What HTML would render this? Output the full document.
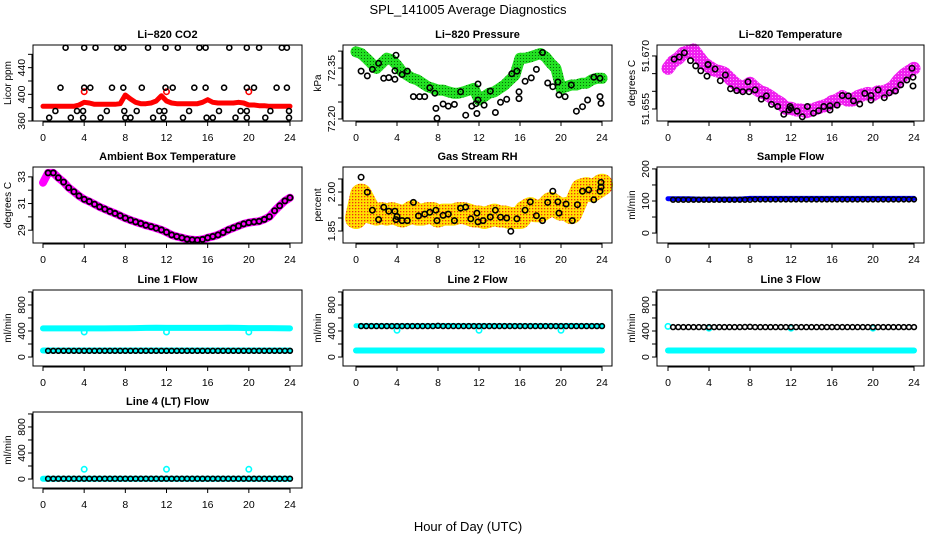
<!DOCTYPE html>
<html><head><meta charset="utf-8"><title>SPL_141005 Average Diagnostics</title>
<style>
html,body{margin:0;padding:0;background:#fff;}
svg{display:block;font-family:"Liberation Sans",Arial,sans-serif;}
</style></head>
<body>
<svg id="c" width="936" height="540" viewBox="0 0 936 540">
<defs>
<pattern id="patGreen" width="3" height="3" patternUnits="userSpaceOnUse"><rect width="3" height="3" fill="#22e022"/><rect x="1" y="1" width="1" height="1" fill="#0a6a0a"/></pattern>
<pattern id="patMag" width="3" height="3" patternUnits="userSpaceOnUse"><rect width="3" height="3" fill="#f020f0"/><rect x="1" y="1" width="1" height="1" fill="#f8a0f8"/></pattern>
<pattern id="patRH" width="3" height="3" patternUnits="userSpaceOnUse"><rect width="3" height="3" fill="#ffe000"/><rect x="1" y="1" width="1.3" height="1.3" fill="#f03010"/></pattern>
</defs>
<text x="468" y="14" text-anchor="middle" font-size="13">SPL_141005  Average Diagnostics</text>
<text x="468" y="531" text-anchor="middle" font-size="13">Hour of Day (UTC)</text>
</svg>
<script>
// ---- data ----
const halfHours = []; for (let i = 0; i <= 48; i++) halfHours.push(i * 0.5);
const hourly = []; for (let i = 0; i <= 24; i++) hourly.push(i);
const denseHours = []; for (let i = 1; i <= 48; i++) denseHours.push(i * 0.5);
const xTickVals = [0, 4, 8, 12, 16, 20, 24];

const co2Red = [382,382,382,382,382,382,382,384,388,387,385,385,385,385,385,386,399,393,388,386,386,387,390,398,390,387,386,386,386,386,386,388,392,388,387,387,387,387,388,387,384,384,383,383,382,382,382,382,382];
const co2RedOutHours = [4, 12, 20];
const co2RedOutVals = [404, 404, 404];
const co2BlackHours = [2.2,4.0,5.1,7.2,7.8,10.2,11.9,13.1,15.2,15.8,18.1,19.8,21.0,23.2,23.7,
 1.7,4.0,4.6,6.7,7.8,9.6,11.9,12.6,14.7,15.8,17.6,19.8,20.5,22.7,23.7,
 1.2,3.3,3.9,6.2,7.9,9.1,11.3,11.8,14.2,17.1,19.2,19.8,22.1,23.9,
 0.6,2.7,3.9,5.6,8.0,8.5,10.7,11.7,13.6,15.9,16.5,18.7,19.8,21.6,23.9];
const co2BlackVals = [470,470,470,470,470,470,470,470,470,470,470,470,470,470,470,
 410,410,410,410,410,410,410,410,410,410,410,410,410,410,410,
 375,375,375,375,375,375,375,375,375,375,375,375,375,375,
 365,365,365,365,365,365,365,365,365,365,365,365,365,365,365];

const presGreen = [72.398,72.393,72.379,72.364,72.349,72.364,72.379,72.374,72.359,72.339,72.329,72.320,72.315,72.305,72.295,72.290,72.285,72.285,72.280,72.276,72.276,72.280,72.285,72.290,72.256,72.266,72.276,72.280,72.290,72.300,72.315,72.329,72.379,72.379,72.383,72.388,72.393,72.383,72.364,72.349,72.290,72.295,72.300,72.300,72.305,72.305,72.315,72.320,72.320];
const presBlackHours = [0.5,1.1,1.6,2.2,2.7,3.2,3.8,3.9,3.8,4.5,5.0,5.6,6.2,6.7,7.2,7.7,7.8,7.9,8.5,9.0,9.6,10.2,10.7,11.3,11.7,11.8,11.9,11.9,12.5,13.1,13.6,14.1,14.7,15.2,15.7,15.9,15.9,16.5,17.1,17.6,18.2,18.7,19.2,19.7,19.8,20.4,21.0,21.5,22.1,22.6,23.2,23.8,23.8,23.9];
const presBlackVals = [72.341,72.327,72.346,72.364,72.320,72.322,72.317,72.388,72.342,72.331,72.341,72.266,72.266,72.266,72.292,72.276,72.231,72.202,72.244,72.238,72.243,72.280,72.211,72.238,72.245,72.216,72.303,72.256,72.241,72.282,72.219,72.249,72.258,72.333,72.341,72.280,72.260,72.311,72.321,72.346,72.396,72.306,72.295,72.309,72.271,72.266,72.300,72.223,72.236,72.256,72.323,72.320,72.266,72.246];

const tempMag = [51.6665,51.6684,51.6693,51.6708,51.6712,51.6717,51.6698,51.6679,51.6670,51.6660,51.6656,51.6651,51.6637,51.6623,51.6613,51.6613,51.6623,51.6609,51.6599,51.6594,51.6585,51.6575,51.6566,51.6552,51.6552,51.6547,51.6547,51.6542,51.6547,51.6552,51.6557,51.6561,51.6571,51.6575,51.6585,51.6575,51.6575,51.6585,51.6590,51.6594,51.6590,51.6599,51.6599,51.6604,51.6613,51.6632,51.6646,51.6656,51.6665];
const tempBlackHours = [0.6,1.1,1.6,2.2,2.7,3.2,3.8,3.9,3.9,4.6,5.1,5.6,6.1,6.7,7.3,7.8,7.9,8.5,9.1,9.6,10.1,10.7,11.3,11.8,11.9,12.0,12.6,13.1,13.6,14.2,14.7,15.2,15.8,15.8,16.5,17.0,17.6,18.1,18.7,19.2,19.8,19.8,20.5,21.1,21.6,22.2,22.7,23.3,23.8,23.9,23.9];
const tempBlackVals = [51.6691,51.6697,51.6709,51.6687,51.6672,51.6658,51.6643,51.6675,51.6676,51.6663,51.6630,51.6646,51.6607,51.6602,51.6599,51.6627,51.6599,51.6604,51.6578,51.6587,51.6563,51.6557,51.6535,51.6547,51.6557,51.6552,51.6544,51.6528,51.6557,51.6538,51.6545,51.6557,51.6547,51.6559,51.6561,51.6588,51.6587,51.6573,51.6564,51.6594,51.6575,51.6588,51.6604,51.6582,51.6596,51.6601,51.6618,51.6632,51.6665,51.6640,51.6615];

const ambient = [32.56,33.30,33.30,32.93,32.61,32.19,31.89,31.57,31.32,31.15,30.95,30.75,30.58,30.41,30.26,30.09,29.91,29.76,29.62,29.50,29.37,29.27,29.15,29.02,28.85,28.65,28.53,28.43,28.33,28.28,28.26,28.31,28.43,28.53,28.65,28.83,29.02,29.17,29.32,29.47,29.57,29.62,29.67,29.81,30.01,30.46,30.83,31.20,31.44];

const rhBand = [1.900,1.990,1.951,1.919,1.913,1.919,1.913,1.919,1.913,1.906,1.913,1.926,1.913,1.913,1.919,1.919,1.906,1.913,1.913,1.913,1.919,1.919,1.913,1.906,1.906,1.900,1.906,1.913,1.906,1.906,1.900,1.900,1.900,1.926,1.938,1.926,1.926,1.938,1.958,1.945,1.932,1.938,1.919,1.964,2.009,2.015,2.003,2.015,2.028];
const rhBlackHours = [0.5,1.1,1.6,2.2,2.7,3.2,3.8,3.9,4.0,4.5,5.0,5.6,6.1,6.7,7.2,7.8,7.9,8.5,9.0,9.6,10.2,10.7,11.2,11.8,11.9,12.4,13.1,13.6,14.1,14.7,15.1,15.7,16.5,17.0,17.6,18.2,18.7,19.2,19.7,19.8,20.5,21.1,21.6,22.1,22.7,23.2,23.8,23.9,23.9];
const rhBlackVals = [2.057,1.999,1.930,1.894,1.941,1.926,1.926,1.894,1.906,1.890,1.890,1.960,1.908,1.915,1.922,1.930,1.890,1.910,1.915,1.890,1.938,1.942,1.897,1.919,1.885,1.890,1.904,1.930,1.903,1.900,1.849,1.897,1.930,1.962,1.909,1.890,1.960,2.003,1.962,1.919,1.954,1.890,1.951,2.003,2.008,1.970,2.003,2.037,2.019];

const sampleBlue = [107,107,107,106,106,106,106,106,108,108,108,108,108,108,108,108,108,108,108,108,108,108,108,108,108];
const sampleBlack = [104,104,104,104,104,104,104,104,104,104,104,104,104,104,104,104,105,105,105,105,105,105,105,105,105,105,105,105,105,105,105,105,105,105,105,105,105,105,105,105,105,105,105,105,105,105,105,105];

const l1CyanTop = [440,440,440,440,440,440,440,442,442,445,448,450,448,448,447,447,448,448,450,448,445,445,445,442,440];
const l1CyanBot = [100,100,100,100,100,100,100,100,100,100,100,100,100,100,100,100,100,100,100,100,100,100,100,100,100];
const l1Black = [95,95,95,95,95,95,95,95,95,95,95,95,95,95,95,95,95,95,95,95,95,95,95,95,95,95,95,95,95,95,95,95,95,95,95,95,95,95,95,95,95,95,95,95,95,95,95,95];
const l1DipVals = [385,385,385];
const dipHours = [4, 12, 20];

const l2CyanTop = [480,480,480,480,480,480,480,480,480,485,482,480,480,480,480,480,480,480,480,480,480,485,480,480,480];
const l2CyanBot = [100,100,100,100,100,100,100,100,100,100,100,100,100,100,100,100,100,100,100,100,100,100,100,100,100];
const l2Black = [475,475,475,475,475,475,475,475,475,475,475,475,475,475,475,480,475,475,475,475,475,475,475,475,475,475,475,475,475,475,475,475,475,475,475,475,475,475,475,475,475,475,475,475,475,475,475,475];
const l2DipVals = [410,410,410];

const l3CyanStart = [470];
const l3CyanBot = [100,100,100,100,100,100,100,100,100,100,100,100,100,100,100,100,100,100,100,100,100,100,100,100,100];
const l3Black = [460,460,460,460,460,460,460,460,460,460,460,460,460,460,462,465,460,460,460,460,460,460,460,460,460,460,460,460,460,460,460,460,460,460,460,460,460,460,460,460,460,460,460,460,460,460,460,460];
const l3DipVals = [445,445,445];

const l4Cyan = [5,5,5,5,5,5,5,5,5,5,5,5,5,5,5,5,5,5,5,5,5,5,5,5,5];
const l4Black = [5,5,5,5,5,5,5,5,5,5,5,5,5,5,5,5,5,5,5,5,5,5,5,5,5,5,5,5,5,5,5,5,5,5,5,5,5,5,5,5,5,5,5,5,5,5,5,5];
const l4SpikeVals = [150,150,150];

// ---- drawing ----
const NS = 'http://www.w3.org/2000/svg';
const svg = document.getElementById('c');
function mk(tag, attrs, parent) {
  const e = document.createElementNS(NS, tag);
  for (const k in attrs) e.setAttribute(k, attrs[k]);
  (parent || svg).appendChild(e);
  return e;
}
const cols = [{l:33,r:302,x0:43,x24:290},{l:343,r:612,x0:356,x24:602},{l:657,r:924,x0:668,x24:914}];
const rowTops = [45,167,290,412];
const PH = 76;

function makePanel(id, col, row, title, ylab, ymin, ymax, yticks, ylabels) {
  const c = cols[col], top = rowTops[row], bot = top + PH;
  const g = mk('g', {});
  
  
  const xs = h => c.x0 + (c.x24 - c.x0) * h / 24;
  const ys = v => bot - (v - ymin) / (ymax - ymin) * PH;
  const t = mk('text', {x:(c.l + c.r) / 2, y: top - 7, 'text-anchor':'middle', 'font-size':11, 'font-weight':'bold'}, g);
  t.textContent = title;
  
  
  const yl = mk('text', {x:0, y:0, transform:`translate(${c.l - 22},${(top + bot) / 2}) rotate(-90)`, 'text-anchor':'middle', 'font-size':10}, g);
  yl.textContent = ylab;
  
  
  const plot = mk('g', {}, g);
  
  
  const xa = mk('g', {}, g);
  
  
  mk('line', {x1:xs(0), x2:xs(24), y1:bot + 1, y2:bot + 1, stroke:'#000', 'stroke-width':1}, xa);
  xTickVals.forEach(v => {
    mk('line', {x1:xs(v), x2:xs(v), y1:bot, y2:bot + 5, stroke:'#000', 'stroke-width':1}, xa);
    const tl = mk('text', {x:xs(v), y:bot + 20, 'text-anchor':'middle', 'font-size':10.5}, xa);
    tl.textContent = String(v);
    
    
  });
  const ya = mk('g', {}, g);
  
  
  mk('line', {x1:c.l - 1, x2:c.l - 1, y1:ys(yticks[0]), y2:ys(yticks[yticks.length - 1]), stroke:'#000', 'stroke-width':1}, ya);
  yticks.forEach((v, i) => {
    const y = ys(v);
    mk('line', {x1:c.l - 5, x2:c.l, y1:y, y2:y, stroke:'#000', 'stroke-width':1}, ya);
    if (ylabels[i]) {
      const tl = mk('text', {x:0, y:0, transform:`translate(${c.l - 8},${y}) rotate(-90)`, 'text-anchor':'middle', 'font-size':10.5}, ya);
      tl.textContent = ylabels[i];
      
      
    }
  });
  const box = mk('rect', {x:c.l, y:top, width:c.r - c.l, height:PH, fill:'none', stroke:'#000', 'stroke-width':1}, g);
  
  
  return {xs, ys, plot, id};
}

function band(p, hours, vals, stroke, width, name) {
  const pts = hours.map((h, i) => p.xs(h).toFixed(1) + ',' + p.ys(vals[i]).toFixed(1)).join(' ');
  const pl = mk('polyline', {points:pts, fill:'none', stroke:stroke, 'stroke-width':width, 'stroke-linejoin':'round', 'stroke-linecap':'round'}, p.plot);
  
  
}
function pts(p, hours, vals, color, name, r, sw) {
  const g = mk('g', {}, p.plot);
  
  
  hours.forEach((h, i) => {
    const ci = mk('circle', {cx:p.xs(h).toFixed(1), cy:p.ys(vals[i]).toFixed(1), r:r || 2.7, fill:'none', stroke:color, 'stroke-width':sw || 1.6}, g);
    
    
  });
}

let p = makePanel('co2', 0, 0, 'Li\u2212820 CO2', 'Licor ppm', 360, 474, [360,380,400,420,440,460], ['360','','400','','440','']);
band(p, halfHours, co2Red, '#ff0000', 5, 'red-series');
pts(p, co2RedOutHours, co2RedOutVals, '#ff0000', 'red-outliers');
pts(p, co2BlackHours, co2BlackVals, '#000', 'black-series', 2.5, 1.6);

p = makePanel('pressure', 1, 0, 'Li\u2212820 Pressure', 'kPa', 72.194, 72.418, [72.20,72.25,72.30,72.35,72.40], ['72.20','','','72.35','']);
band(p, halfHours, presGreen, 'url(#patGreen)', 11, 'green-series');
pts(p, presBlackHours, presBlackVals, '#000', 'black-series');

p = makePanel('li820-temp', 2, 0, 'Li\u2212820 Temperature', 'degrees C', 51.6516, 51.6731, [51.655,51.660,51.665,51.670], ['51.655','','','51.670']);
band(p, halfHours, tempMag, 'url(#patMag)', 13, 'magenta-series');
pts(p, tempBlackHours, tempBlackVals, '#000', 'black-series');

p = makePanel('ambient-temp', 0, 1, 'Ambient Box Temperature', 'degrees C', 28.04, 33.74, [29,30,31,32,33], ['29','','31','','33']);
band(p, halfHours, ambient, '#ff00ff', 8, 'magenta-series');
pts(p, halfHours.slice(1), ambient.slice(1), '#000', 'black-series', 2.6, 1.8);

p = makePanel('gas-rh', 1, 1, 'Gas Stream RH', 'percent', 1.804, 2.096, [1.85,1.90,1.95,2.00,2.05], ['1.85','','','2.00','']);
band(p, halfHours, rhBand, 'url(#patRH)', 22, 'orange-series');
pts(p, rhBlackHours, rhBlackVals, '#000', 'black-series');

p = makePanel('sample-flow', 2, 1, 'Sample Flow', 'ml/min', -31, 206, [0,50,100,150,200], ['0','','100','','200']);
band(p, hourly, sampleBlue, '#0000ff', 5, 'blue-series');
pts(p, denseHours, sampleBlack, '#000', 'black-series', 2.4, 1.6);

const flowTicks = [0,200,400,600,800,1000], flowLabels = ['0','','400','','800',''];
p = makePanel('line1-flow', 0, 2, 'Line 1 Flow', 'ml/min', -138, 1030, flowTicks, flowLabels);
band(p, hourly, l1CyanTop, '#00ffff', 6, 'cyan-top');
band(p, hourly, l1CyanBot, '#00ffff', 6, 'cyan-bottom');
pts(p, dipHours, l1DipVals, '#00ffff', 'cyan-dips');
pts(p, denseHours, l1Black, '#000', 'black-series', 2.4, 1.6);

p = makePanel('line2-flow', 1, 2, 'Line 2 Flow', 'ml/min', -138, 1030, flowTicks, flowLabels);
band(p, hourly, l2CyanTop, '#00ffff', 5, 'cyan-top');
band(p, hourly, l2CyanBot, '#00ffff', 6, 'cyan-bottom');
pts(p, dipHours, l2DipVals, '#00ffff', 'cyan-dips');
pts(p, denseHours, l2Black, '#000', 'black-series', 2.4, 1.6);

p = makePanel('line3-flow', 2, 2, 'Line 3 Flow', 'ml/min', -138, 1030, flowTicks, flowLabels);
band(p, hourly, l3CyanBot, '#00ffff', 6, 'cyan-bottom');
pts(p, [0], l3CyanStart, '#00ffff', 'cyan-start');
pts(p, dipHours, l3DipVals, '#00ffff', 'cyan-dips');
pts(p, denseHours, l3Black, '#000', 'black-series', 2.4, 1.6);

p = makePanel('line4-flow', 0, 3, 'Line 4 (LT) Flow', 'ml/min', -138, 1030, flowTicks, flowLabels);
band(p, hourly, l4Cyan, '#00ffff', 6, 'cyan-series');
pts(p, dipHours, l4SpikeVals, '#00ffff', 'cyan-spikes');
pts(p, denseHours, l4Black, '#000', 'black-series', 2.4, 1.6);
</script>
</body></html>
